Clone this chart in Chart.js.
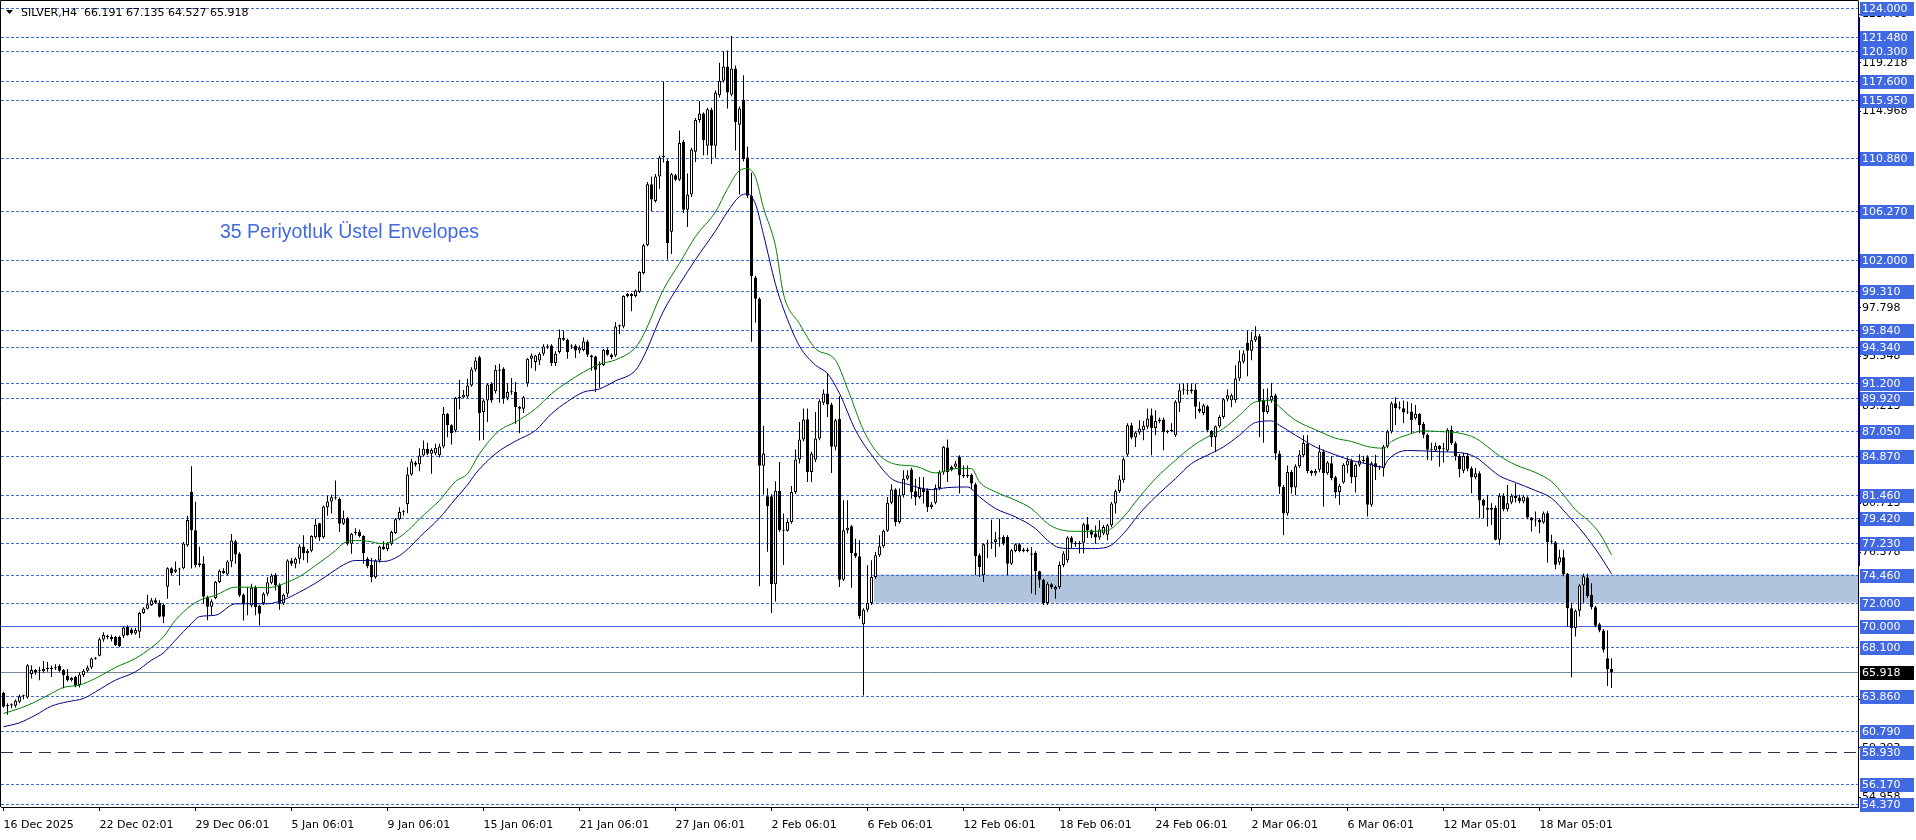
<!DOCTYPE html>
<html>
<head>
<meta charset="utf-8">
<title>SILVER,H4</title>
<script src="https://cdn.jsdelivr.net/npm/chart.js@4.4.1/dist/chart.umd.min.js"></script>
<style>
  html, body { margin: 0; padding: 0; background: #fff; }
  canvas { display: block; }
</style>
</head>
<body>
<canvas id="chart" width="1916" height="840"></canvas>
<script>
// H4 candles, one entry per bar (index 0 = 16 Dec 2025)
const opens = [
  64.1,62.95,63.0,62.98,63.33,63.8,63.71,65.75,66.1,66.0,66.0,66.2,66.25,66.3,66.45,66.1,65.6,65.22,65.5,64.8,
  65.66,66.04,66.33,67.1,67.35,68.78,69.1,69.0,69.0,69.0,69.1,69.87,69.65,69.3,69.45,71.1,71.46,71.8,72.2,72.0,
  71.8,73.4,75.0,74.7,74.95,75.0,77.03,81.67,78.34,75.3,75.43,72.51,71.64,72.4,73.8,74.8,74.46,75.6,77.38,76.27,
  72.68,71.9,71.75,73.35,71.72,71.95,72.77,73.74,74.43,73.56,71.95,72.77,75.69,75.4,75.83,76.91,76.33,76.55,77.73,78.95,
  77.73,80.35,80.85,81.23,81.08,78.9,79.39,77.15,78.1,78.2,77.82,75.83,75.3,74.23,75.69,76.91,76.7,77.15,78.1,79.3,
  79.92,80.64,83.21,84.23,84.1,84.88,85.46,85.03,85.07,84.9,85.67,88.53,87.51,87.07,89.9,89.95,90.04,91.0,92.4,93.48,
  88.67,89.69,91.15,90.5,92.3,92.46,89.93,90.42,90.42,89.11,88.96,91.2,93.34,93.05,93.19,93.77,94.41,94.5,92.96,93.92,
  95.17,95.0,94.5,94.5,94.06,94.1,94.85,93.63,93.54,92.9,92.8,94.1,93.7,93.63,96.17,96.17,98.84,99.0,98.84,99.2,
  100.85,103.3,108.61,107.14,109.28,111.0,110.65,104.46,109.4,109.0,112.32,106.37,107.7,111.45,114.23,114.79,111.98,115.13,111.98,116.4,
  117.67,118.9,116.47,118.74,113.82,115.99,110.95,107.6,100.45,98.58,83.97,81.3,81.3,73.6,81.8,78.35,78.3,79.06,81.69,84.52,
  86.27,88.05,83.44,84.5,86.36,89.48,90.3,89.33,85.63,88.1,74.01,78.33,78.68,76.35,76.06,70.1,71.38,71.97,74.25,76.14,
  76.93,78.3,80.75,81.89,79.06,81.39,82.85,83.64,81.75,81.25,81.98,81.83,80.37,80.75,82.04,83.38,85.57,83.9,83.88,84.75,
  83.2,83.06,83.2,82.36,76.14,74.39,77.1,77.2,77.3,77.6,77.75,77.75,75.41,76.52,77.1,76.5,76.66,76.3,76.37,74.74,
  74.01,71.97,73.6,73.14,73.37,75.3,75.7,77.69,77.25,77.1,77.25,78.86,78.33,78.04,77.69,78.04,77.95,78.77,80.67,81.75,
  82.71,84.96,87.52,86.44,86.88,87.08,87.38,88.4,87.29,87.9,88.02,86.94,87.0,86.65,89.5,90.59,90.6,90.5,90.65,88.98,
  88.6,89.18,87.03,86.5,87.43,88.25,89.8,89.71,89.71,91.61,93.07,94.73,94.03,94.96,95.31,89.71,88.69,89.71,90.15,85.04,
  82.13,79.79,83.44,82.07,83.93,84.9,85.92,83.52,83.3,83.62,85.22,83.33,84.2,82.98,81.67,82.51,84.0,84.44,82.98,84.06,
  84.44,84.73,80.56,84.2,83.85,83.76,85.66,86.97,89.45,89.01,89.01,88.63,88.72,88.14,88.52,87.64,86.68,85.37,85.31,85.72,
  85.43,85.31,87.12,85.95,84.84,83.53,84.84,83.76,82.98,83.33,80.99,80.3,80.12,80.3,77.5,81.35,80.18,80.76,81.35,81.2,
  80.85,81.2,79.45,79.18,79.24,79.01,79.83,77.29,77.29,75.51,75.98,74.52,71.52,69.77,71.28,73.5,74.2,72.68,71.6,70.1,
  69.56,67.14,66.191
];
const highs = [
  64.2,63.2,63.2,63.53,63.97,63.95,66.6,66.53,66.2,66.39,66.89,66.8,66.5,66.6,66.6,66.2,66.2,65.5,65.6,65.9,
  66.2,66.5,67.2,67.25,68.95,69.4,69.2,69.2,69.1,69.1,69.9,70.03,69.8,69.8,71.2,71.6,72.7,72.4,72.4,72.2,
  71.9,75.1,75.1,75.6,75.05,77.3,79.6,83.94,80.82,76.88,76.07,72.6,72.3,73.9,74.9,75.0,75.7,78.0,77.5,76.4,
  72.8,73.35,73.65,73.5,71.8,72.9,74.23,74.52,74.6,73.7,72.8,75.8,75.9,75.95,77.1,77.9,76.7,77.9,79.33,79.0,
  80.5,81.37,81.43,82.69,81.2,80.06,79.5,78.1,78.5,78.4,77.9,76.0,75.9,75.8,77.0,77.38,77.3,78.3,79.4,80.35,
  80.1,83.85,84.58,84.4,85.5,86.19,86.0,85.5,85.9,85.9,89.11,88.6,87.6,90.0,91.5,90.6,91.6,92.6,93.5,93.6,
  89.8,91.2,91.3,92.8,92.9,92.6,91.2,91.65,91.3,89.2,90.1,93.4,93.8,93.7,93.9,94.6,94.6,94.6,94.0,95.9,
  95.82,95.1,94.6,94.6,94.5,95.2,95.0,93.7,93.6,93.1,94.2,94.3,93.8,96.55,96.34,98.9,99.1,99.1,99.4,101.0,
  103.4,108.8,109.28,109.5,111.1,117.57,110.8,109.6,109.5,113.32,112.5,109.54,111.8,114.4,115.9,114.9,115.3,115.3,116.8,119.24,
  120.24,120.31,121.58,119.0,115.4,118.14,111.9,109.61,100.6,98.7,87.47,82.0,81.5,82.63,84.3,79.8,79.3,82.2,85.39,87.8,
  88.98,88.98,85.2,88.69,89.8,90.65,92.05,89.5,88.1,90.06,80.96,80.96,78.8,77.6,77.45,71.5,75.27,75.7,76.43,77.9,
  78.4,81.25,82.36,82.0,81.98,83.58,83.58,83.8,82.85,83.0,83.0,82.0,80.8,82.33,83.58,85.7,86.27,84.0,84.4,84.9,
  84.0,84.0,83.3,82.5,76.3,77.2,77.5,79.26,78.2,79.35,77.9,77.9,76.7,77.2,77.2,76.8,76.8,76.87,76.5,74.8,
  74.1,73.8,73.7,73.5,75.6,76.5,77.8,77.8,77.4,77.4,79.0,79.5,78.4,78.76,79.2,78.8,78.9,80.8,81.9,83.15,
  84.7,87.7,87.73,87.0,87.96,87.9,88.98,88.98,88.84,88.2,88.2,87.1,87.7,89.7,91.17,91.17,91.17,91.17,91.17,89.57,
  89.4,89.3,87.1,87.5,88.4,89.9,90.65,90.3,92.77,94.09,94.09,95.84,95.69,96.19,95.5,90.7,90.73,91.23,90.3,85.3,
  82.3,84.0,83.6,84.1,85.33,86.65,86.65,83.6,83.7,85.8,85.4,84.4,84.84,83.1,82.4,84.2,84.73,84.6,84.2,84.99,
  84.84,84.9,84.35,84.93,84.0,85.8,87.1,89.6,89.98,89.6,89.68,89.6,89.45,89.3,88.6,87.8,86.8,86.0,86.01,85.8,
  86.0,87.26,87.47,86.1,85.0,85.13,85.08,83.91,83.77,83.5,81.1,81.43,80.7,80.5,81.58,81.58,82.3,81.52,82.45,81.43,
  81.4,81.3,79.5,79.97,79.4,79.97,80.0,77.93,77.4,76.62,76.62,74.6,72.0,71.4,73.6,74.52,74.52,73.7,71.7,70.25,
  69.7,69.56,67.135
];
const lows = [
  62.8,62.2,62.75,62.83,63.2,63.55,63.62,65.37,65.7,65.2,65.87,65.95,65.5,66.1,65.95,64.52,65.1,65.1,64.6,64.58,
  65.5,65.9,66.2,67.0,67.3,68.57,68.8,68.6,68.2,68.1,68.9,69.1,69.2,69.2,68.9,71.0,71.4,71.7,71.9,70.7,
  70.2,72.34,74.4,74.6,73.5,74.9,76.9,74.99,75.08,75.1,71.93,70.47,70.9,72.3,73.7,74.5,74.4,75.1,75.4,72.5,
  70.44,70.9,71.6,70.9,70.0,71.8,72.6,73.6,73.06,71.37,71.8,72.5,75.2,75.0,75.4,75.7,75.5,76.4,77.6,77.4,
  77.6,79.6,79.8,81.0,78.17,78.8,77.0,76.27,77.9,77.7,75.4,75.0,73.79,74.1,75.5,76.6,76.5,77.0,78.0,79.2,
  79.6,79.83,83.1,83.9,83.5,84.8,84.9,83.28,84.9,84.7,85.5,86.48,85.84,86.9,88.9,89.9,89.9,90.9,92.2,86.19,
  86.25,87.8,89.5,90.3,89.5,89.4,89.7,90.2,87.65,86.83,88.6,90.9,92.5,92.3,92.8,93.6,94.2,92.7,92.7,93.8,
  94.9,93.34,94.2,93.4,93.8,94.0,93.5,92.3,90.42,90.8,92.7,93.6,93.3,93.5,95.5,96.0,98.7,97.5,98.7,99.1,
  100.7,103.19,106.27,107.0,108.21,110.5,102.02,102.5,108.9,108.9,106.1,104.86,107.5,110.55,114.0,111.15,111.15,110.38,110.88,116.2,
  117.5,115.23,116.3,111.55,107.7,110.6,107.4,94.83,96.5,73.44,81.46,76.45,71.1,72.1,78.2,75.3,78.2,78.9,81.5,84.17,
  86.1,82.56,82.56,84.3,86.2,89.3,88.25,83.35,85.33,73.37,73.9,78.04,73.31,75.9,70.6,63.88,71.2,71.8,74.1,76.0,
  76.8,78.2,80.6,78.68,78.9,81.2,82.7,81.1,80.5,81.1,80.67,79.94,80.2,80.6,81.83,83.2,82.56,83.5,83.7,81.54,
  82.9,82.9,81.9,74.39,74.25,73.8,75.9,76.7,76.0,76.9,77.0,74.39,75.3,76.4,76.4,76.4,76.4,72.79,72.7,73.31,
  71.8,71.8,73.2,72.35,73.2,75.1,75.5,76.73,76.9,76.3,76.3,77.66,77.66,77.16,77.5,77.9,77.45,78.6,79.79,81.6,
  82.5,84.8,86.3,85.62,86.7,86.21,87.2,84.9,86.65,87.7,85.33,86.8,86.9,86.5,88.69,90.2,90.2,90.3,88.1,88.6,
  88.4,86.9,85.62,85.19,87.3,88.1,89.6,89.1,89.5,91.4,92.9,91.81,93.2,94.8,86.5,86.0,88.5,89.5,84.5,81.5,
  77.9,79.6,81.54,81.4,83.8,84.7,83.3,83.1,83.1,83.4,80.41,83.2,82.7,81.14,80.56,82.4,83.33,82.45,81.64,83.9,
  84.2,79.53,80.4,82.74,83.6,83.03,85.5,86.8,87.55,88.9,87.7,88.5,86.83,88.0,86.83,86.39,84.49,84.43,85.2,83.9,
  84.26,85.2,85.8,84.43,82.98,83.33,83.5,81.58,82.8,79.39,79.39,78.66,78.8,77.43,77.06,80.0,79.97,80.6,80.76,80.7,
  80.7,79.3,78.22,78.66,78.08,78.9,75.51,77.1,74.93,75.3,74.3,69.91,65.48,69.04,70.79,72.0,72.4,71.4,69.85,69.4,
  67.64,64.7,64.527
];
const closes = [
  62.9,63.05,63.1,63.42,63.82,63.9,66.53,66.1,65.9,66.05,66.2,66.25,66.2,66.4,66.04,65.66,65.22,65.4,64.73,65.72,
  66.04,66.33,67.12,67.15,68.8,69.16,69.0,68.8,68.3,68.2,69.83,69.16,69.3,69.6,71.1,71.49,71.87,72.22,72.0,70.76,
  70.76,75.02,74.6,74.9,74.9,77.18,79.22,78.34,75.28,75.45,72.51,71.64,72.13,73.82,74.8,74.6,75.6,77.44,76.21,72.63,
  71.9,72.0,73.3,71.6,71.02,72.77,73.79,74.38,73.5,71.9,72.68,75.69,75.4,75.83,76.91,76.33,76.55,77.82,78.81,77.73,
  80.41,80.85,81.23,81.13,78.9,79.39,77.15,78.02,78.2,77.82,76.33,75.2,74.23,75.69,76.91,76.7,77.15,78.17,79.3,79.92,
  79.9,83.21,84.35,84.06,84.87,85.46,85.03,85.35,85.55,85.67,88.53,87.51,86.83,89.9,89.95,90.2,91.0,92.4,93.19,88.58,
  89.69,91.09,89.69,92.37,92.4,89.84,90.42,90.4,89.11,88.96,89.98,93.34,93.63,93.63,93.77,94.41,94.35,92.96,93.77,95.17,
  95.0,93.92,94.4,94.06,94.3,94.85,93.69,93.48,92.37,92.8,94.12,93.7,93.5,96.17,96.27,98.84,99.0,98.84,99.31,100.92,
  103.26,108.61,107.27,109.28,110.95,111.05,103.46,109.48,109.0,112.22,106.37,107.7,111.65,114.23,114.79,112.45,115.16,111.98,116.63,117.67,
  118.9,116.63,118.74,114.06,115.23,110.82,107.6,100.58,98.58,83.97,85.04,80.46,73.6,81.8,78.35,78.3,79.06,81.69,84.52,86.27,
  88.02,83.44,85.04,86.36,89.62,90.3,89.33,85.63,87.96,74.01,78.33,78.56,76.35,76.06,70.8,71.38,71.97,74.25,76.14,76.93,
  78.3,80.75,81.89,79.06,81.39,82.85,83.15,81.69,81.2,82.04,81.69,80.37,80.58,82.04,83.38,85.63,83.44,83.6,84.17,83.15,
  83.06,83.2,82.42,76.06,75.12,77.1,77.2,77.25,77.54,77.7,77.16,75.41,76.58,77.1,76.52,76.66,76.52,76.2,74.74,74.01,
  71.97,73.66,73.37,73.37,75.3,76.3,77.69,77.25,77.1,77.25,78.86,78.33,77.95,77.69,78.39,78.62,78.77,80.67,81.75,82.77,
  84.55,87.52,86.44,86.88,87.23,87.47,88.11,87.29,87.9,88.02,86.94,87.0,87.1,89.57,90.59,90.6,90.55,90.65,89.13,88.75,
  89.27,87.08,86.44,87.43,88.25,89.8,90.15,90.15,91.61,93.13,93.8,94.03,94.96,95.31,89.57,88.69,89.27,90.09,85.04,82.13,
  79.79,83.44,82.07,83.93,84.96,85.97,83.52,83.35,83.52,85.22,83.33,84.26,82.89,81.64,82.22,84.06,84.44,82.98,84.06,84.44,
  84.4,80.56,84.2,83.85,83.9,85.66,86.97,89.45,89.01,89.05,88.63,88.7,87.99,88.52,87.55,86.68,85.37,85.43,85.72,85.43,
  85.5,87.12,85.95,84.84,83.68,84.84,83.71,82.98,83.33,80.94,80.47,80.12,80.3,77.5,81.35,80.18,80.7,81.35,81.14,80.9,
  81.29,79.45,79.18,79.24,79.01,79.83,77.29,77.35,75.31,75.98,74.49,71.52,69.77,71.28,73.5,74.3,72.59,71.6,69.97,69.56,
  67.87,66.18,65.918
];

// 35-period exponential envelopes at sample bars
const upperIdx = [0,4,8,12,15,19,23,28,33,37,40,43,47,49,53,58,62,66,70,74,78,83,85,88,91,95,99,102,104,109,113,116,119,124,128,133,137,141,145,149,153,158,160,165,169,173,178,181,184,186,188,190,193,195,199,203,208,211,215,219,223,228,233,238,242,244,248,253,257,261,264,268,272,276,280,284,288,293,297,301,305,309,313,317,319,323,328,333,337,341,345,347,351,355,359,364,368,372,374,378,383,387,390,393,396,399,402];
const upperEnv = [62.31,62.74,63.33,64.06,64.58,64.79,65.37,66.33,67.12,68.08,69.01,70.47,71.78,72.2,72.65,73.35,73.35,73.3,73.65,74.29,75.25,76.56,77.2,77.44,77.38,77.15,77.73,78.6,79.33,80.94,82.6,83.28,85.03,87.07,87.8,88.96,90.28,91.3,92.17,92.87,93.24,94.33,95.44,99.41,101.69,104.03,106.2,108.21,109.81,109.98,109.21,106.54,103.19,99.0,96.4,94.23,93.21,90.73,87.09,84.9,84.11,83.93,83.35,83.73,83.73,82.56,81.69,80.96,80.23,78.92,78.4,78.24,78.24,78.33,79.5,81.25,82.85,84.46,85.63,86.5,87.23,88.4,89.57,89.71,89.13,87.96,87.13,86.39,86.1,85.66,85.51,86.1,86.68,87.03,86.97,86.83,86.39,85.37,84.84,84.06,83.38,82.6,81.43,80.12,79.24,78.08,76.18];
const lowerIdx = [0,4,8,12,16,20,23,28,33,37,40,43,47,49,53,58,62,66,70,74,78,83,85,88,91,95,99,102,104,109,113,116,118,123,128,133,137,141,145,149,153,158,160,165,169,173,178,181,184,186,188,190,193,195,199,203,206,209,213,218,222,226,232,236,241,244,248,253,258,261,264,268,272,276,280,284,288,293,297,301,305,309,313,317,319,323,328,333,337,341,345,346,351,355,359,364,368,372,374,378,383,387,391,395,399,402];
const lowerEnv = [61.14,61.49,62.16,62.95,63.33,63.62,64.2,65.22,65.95,66.97,67.61,68.72,70.18,70.78,70.9,71.9,71.9,71.9,72.25,72.92,73.7,74.87,75.31,75.69,75.69,75.6,76.12,77.0,77.73,79.4,81.09,82.3,83.28,85.03,86.13,87.07,88.53,89.6,90.42,90.7,91.4,92.33,93.5,97.51,99.85,102.02,104.53,106.2,107.54,107.77,106.87,104.2,99.85,97.7,94.45,92.78,92.05,90.3,87.09,84.46,82.85,82.36,81.89,82.07,82.12,81.25,80.23,79.5,78.48,77.45,76.8,76.73,76.73,76.87,78.04,79.79,81.25,82.85,84.17,84.9,85.63,86.65,87.76,87.9,87.52,86.65,85.62,84.93,84.44,84.14,83.85,84.44,85.31,85.28,85.2,85.13,84.73,83.62,83.09,82.51,81.81,81.14,79.68,78.08,76.18,74.52];

// time axis labels, one every 24 bars
const dateLabels = ['16 Dec 2025','22 Dec 02:01','29 Dec 06:01','5 Jan 06:01','9 Jan 06:01','15 Jan 06:01','21 Jan 06:01','27 Jan 06:01','2 Feb 06:01','6 Feb 06:01','12 Feb 06:01','18 Feb 06:01','24 Feb 06:01','2 Mar 06:01','6 Mar 06:01','12 Mar 05:01','18 Mar 05:01'];
const labelEvery = 24;

// price scale
const yTickValues = [123.468,119.218,114.968,97.798,93.548,89.213,80.713,76.378,63.543,59.293,54.958];
const dottedLevels = [124.0,121.48,120.3,117.6,115.95,110.88,106.27,102.0,99.31,95.84,94.34,91.2,89.92,87.05,84.87,81.46,79.42,77.23,74.46,72.0,68.1,63.86,60.79,56.17,54.37];
const solidLevels = [70.0];
const dashLevels = [58.93];
const bidPrice = 65.918;
const zoneLow = 72.0, zoneHigh = 74.46, zoneStartBar = 218;

const titleText = 'SILVER,H4  66.191 67.135 64.527 65.918';
const noteText = '35 Periyotluk Üstel Envelopes';

const FONT = '"DejaVu Sans", sans-serif';
const BLUE = '#4169e1';

const noPadding = axis => {
  axis.paddingLeft = 0; axis.paddingRight = 0;
  axis.paddingTop = 0; axis.paddingBottom = 0;
};

const overlay = {
  id: 'overlay',
  beforeDatasetsDraw(chart) {
    const { ctx, chartArea: a, scales: { x, y } } = chart;
    ctx.save();
    // support zone
    const zx = Math.round(x.getPixelForValue(zoneStartBar - 0.5));
    const zt = y.getPixelForValue(zoneHigh), zb = y.getPixelForValue(zoneLow);
    ctx.fillStyle = '#b0c4de';
    ctx.fillRect(zx, zt, a.right - zx, zb - zt);

    const hline = (v, color, dash) => {
      const py = Math.round(y.getPixelForValue(v)) + 0.5;
      ctx.strokeStyle = color;
      ctx.lineWidth = 1;
      ctx.setLineDash(dash);
      ctx.beginPath();
      ctx.moveTo(a.left, py);
      ctx.lineTo(a.right, py);
      ctx.stroke();
    };
    dottedLevels.forEach(v => hline(v, BLUE, [3, 2]));
    solidLevels.forEach(v => hline(v, BLUE, []));
    dashLevels.forEach(v => hline(v, '#2f3050', [12, 7]));
    hline(bidPrice, '#778899', []);
    ctx.restore();
  },
  afterDraw(chart) {
    const { ctx, chartArea: a, scales: { y } } = chart;
    ctx.save();
    // thin range bar right of the plot
    ctx.fillStyle = '#000080';
    ctx.fillRect(a.right, 17, 2, y.getPixelForValue(75.2) - 17);

    ctx.font = '11px ' + FONT;
    ctx.textBaseline = 'middle';
    ctx.textAlign = 'left';
    const box = (v, bg) => {
      const py = Math.round(y.getPixelForValue(v));
      ctx.fillStyle = bg;
      ctx.fillRect(a.right + 2, py - 6, 54, 14);
      ctx.fillStyle = '#fff';
      ctx.fillText(v.toFixed(3), a.right + 4, py + 1);
    };
    dottedLevels.concat(solidLevels, dashLevels).forEach(v => box(v, BLUE));
    box(bidPrice, '#000');

    // frame
    ctx.strokeStyle = '#000';
    ctx.lineWidth = 1;
    ctx.beginPath();
    ctx.moveTo(0.5, a.bottom);
    ctx.lineTo(0.5, 0.5);
    ctx.lineTo(a.right + 0.5, 0.5);
    ctx.stroke();

    // header
    ctx.fillStyle = '#000';
    ctx.beginPath();
    ctx.moveTo(6, 10); ctx.lineTo(13, 10); ctx.lineTo(9.5, 14);
    ctx.closePath();
    ctx.fill();
    ctx.font = '11px ' + FONT;
    ctx.fillText(titleText, 21, 13);

    ctx.fillStyle = BLUE;
    ctx.font = '19.5px "Liberation Sans", Arial, sans-serif';
    ctx.fillText(noteText, 220, 233);
    ctx.restore();
  }
};

const wickData = highs.map((h, i) => ({ x: i, y: [lows[i], h] }));
const bodyData = opens.map((o, i) => ({ x: i, y: [o, closes[i]] }));
const bodyColors = opens.map((o, i) => (closes[i] >= o ? '#ffffff' : '#000000'));

new Chart(document.getElementById('chart'), {
  type: 'bar',
  data: {
    datasets: [
      {
        type: 'line', label: 'Upper envelope',
        data: upperIdx.map((b, k) => ({ x: b, y: upperEnv[k] })),
        borderColor: '#008000', borderWidth: 1, pointRadius: 0,
        cubicInterpolationMode: 'monotone', order: 1
      },
      {
        type: 'line', label: 'Lower envelope',
        data: lowerIdx.map((b, k) => ({ x: b, y: lowerEnv[k] })),
        borderColor: '#000080', borderWidth: 1, pointRadius: 0,
        cubicInterpolationMode: 'monotone', order: 1
      },
      {
        label: 'Body', data: bodyData,
        backgroundColor: bodyColors, borderColor: '#000', borderWidth: 1,
        borderSkipped: false, barThickness: 3, minBarLength: 1,
        grouped: false, inflateAmount: 0, order: 2
      },
      {
        label: 'Wick', data: wickData,
        backgroundColor: '#000', borderWidth: 0,
        barThickness: 1, grouped: false, inflateAmount: 0, order: 3
      }
    ]
  },
  options: {
    responsive: false,
    animation: false,
    devicePixelRatio: 1,
    layout: { padding: { left: 1, top: 1, right: 0, bottom: 0 } },
    plugins: { legend: { display: false }, tooltip: { enabled: false } },
    scales: {
      x: {
        type: 'linear',
        offset: false,
        min: -0.625,
        max: 463.625,
        afterBuildTicks: axis => { axis.ticks = dateLabels.map((_, k) => ({ value: k * labelEvery })); },
        afterFit: axis => { axis.height = 33; noPadding(axis); },
        grid: { drawOnChartArea: false, drawTicks: true, tickLength: 4, color: '#000', offset: false },
        border: { display: true, color: '#000' },
        ticks: {
          autoSkip: false, maxRotation: 0, align: 'start', padding: 8,
          color: '#000', font: { family: FONT, size: 11 },
          callback: (v, i) => dateLabels[i]
        }
      },
      y: {
        position: 'right',
        min: 54.12,
        max: 124.64,
        afterBuildTicks: axis => { axis.ticks = yTickValues.map(v => ({ value: v })); },
        afterFit: axis => { axis.width = 58; noPadding(axis); },
        grid: { drawOnChartArea: false, drawTicks: true, tickLength: 3, color: '#000' },
        border: { display: true, color: '#000' },
        ticks: {
          autoSkip: false, padding: 1, color: '#000',
          font: { family: FONT, size: 11 },
          callback: v => Number(v).toFixed(3)
        }
      }
    }
  },
  plugins: [overlay]
});
</script>
</body>
</html>
